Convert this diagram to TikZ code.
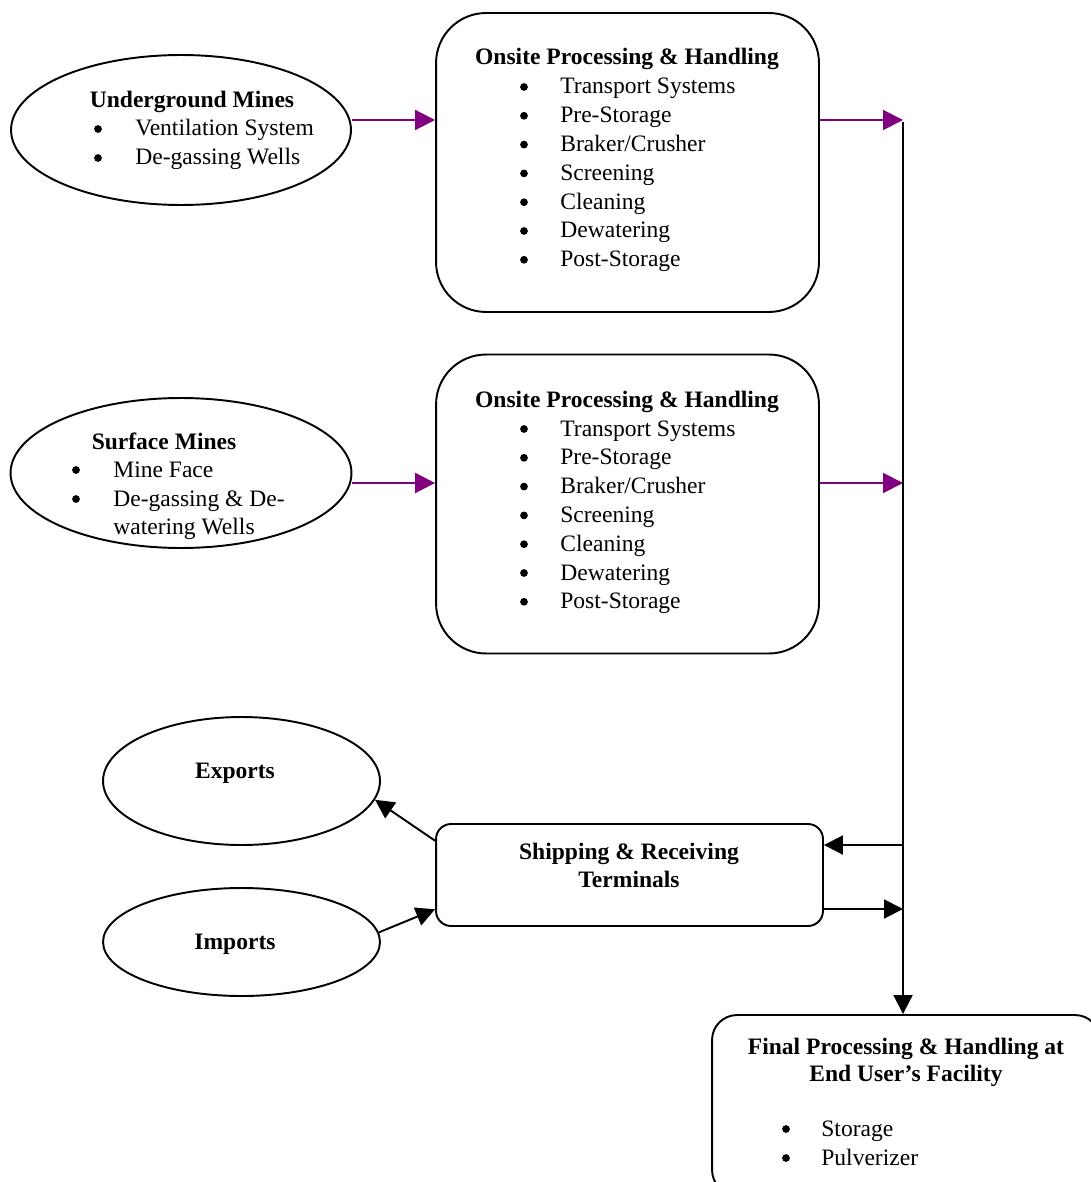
\documentclass[tikz,border=0pt]{standalone}
\usepackage{fontspec}
\setmainfont{Liberation Serif}
\usepackage{xcolor}
\usepackage{tikz}
\usetikzlibrary{arrows.meta,shapes.geometric}
\definecolor{ink}{HTML}{000000}
\definecolor{flowpurple}{HTML}{800080}
\tikzset{
  base/.style={draw=ink, line width=1.1pt, line join=round},
  oval/.style={base, ellipse, inner sep=0pt},
  procbox/.style={base, rectangle, rounded corners=1cm, inner sep=0pt,
    minimum width=7.66cm, minimum height=5.98cm},
  shipbox/.style={base, rectangle, rounded corners=0.3cm, inner sep=0pt,
    minimum width=7.74cm, minimum height=2.04cm},
  endbox/.style={base, rectangle, rounded corners=0.5cm, inner sep=0pt,
    minimum width=7.76cm, minimum height=3.6cm},
  flowp/.style={draw=flowpurple, line width=1.1pt,
    -{Triangle[length=0.4cm, width=0.4cm]}, color=flowpurple},
  flowk/.style={draw=ink, line width=1.1pt,
    -{Triangle[length=0.38cm, width=0.38cm]}},
  ttl/.style={inner sep=0pt, anchor=base, font=\fontsize{13.4}{16}\selectfont\bfseries},
  itm/.style={inner sep=0pt, anchor=base west, font=\fontsize{13.4}{16}\selectfont},
  bul/.style={circle, fill=ink, inner sep=0pt, minimum size=0.155cm},
}

\begin{document}
\begin{tikzpicture}[x=0.02cm, y=-0.02cm]
  \useasboundingbox (0,0) rectangle (1090,1182);
  % shapes
  \node[oval, minimum width=6.8cm, minimum height=3cm] (uground) at (181,130) {};
  \node[oval, minimum width=6.82cm, minimum height=3cm] (surface) at (181,473) {};
  \node[procbox] (onsite1) at (627.5,162.5) {};
  \node[procbox] (onsite2) at (627.5,504) {};
  \node[oval, minimum width=5.54cm, minimum height=2.56cm] (exports) at (241.5,781) {};
  \node[oval, minimum width=5.54cm, minimum height=2.16cm] (imports) at (241.5,942) {};
  \node[shipbox] (ship) at (629.5,875) {};
  \node[endbox] (final) at (906,1105) {};
  % texts
  \node[ttl] (ugt) at (192,108) {Underground Mines};
  \foreach \t [count=\i from 0] in {Ventilation System, De-gassing Wells} {
    \node[bul] at (98,{129+29*\i}) {};
    \node[itm] at (135,{136+29*\i}) {\t};
  }
  \node[ttl] (sft) at (164,449) {Surface Mines};
  \foreach \t [count=\i from 0] in {Mine Face, De-gassing \& De-} {
    \node[bul] at (76,{470+29*\i}) {};
    \node[itm] at (113,{477+29*\i}) {\t};
  }
  \node[itm] at (113,534) {watering Wells};
  \foreach \dy/\nm in {0/op1, 342/op2} {
    \node[ttl] (\nm) at (627,{65+\dy}) {Onsite Processing \& Handling};
    \foreach \t [count=\i from 0] in {Transport Systems, Pre-Storage,
        Braker/Crusher, Screening, Cleaning, Dewatering, Post-Storage} {
      \node[bul] at (524,{87+\dy+28.8*\i}) {};
      \node[itm] at (560,{94+\dy+28.8*\i}) {\t};
    }
  }
  \node[ttl] (ext) at (235,778) {Exports};
  \node[ttl] (imt) at (235,949) {Imports};
  \node[ttl] (sh1) at (629,859) {Shipping \& Receiving};
  \node[ttl] (sh2) at (629,887) {Terminals};
  \node[ttl] (fn1) at (906,1054) {Final Processing \& Handling at};
  \node[ttl] (fn2) at (906,1081) {End User’s Facility};
  \foreach \t [count=\i from 0] in {Storage, Pulverizer} {
    \node[bul] at (786,{1129+29*\i}) {};
    \node[itm] at (821,{1136+29*\i}) {\t};
  }
  % connectors
  \coordinate (j1) at (903,120);
  \coordinate (j2) at (903,483);
  \coordinate (j3) at (903,845);
  \coordinate (j4) at (903,909);
  \draw[flowp] (uground.east |- j1) -- (onsite1.west |- j1);
  \draw[flowp] (surface.east |- j2) -- (onsite2.west |- j2);
  \draw[flowp] (onsite1.east |- j1) -- (j1);
  \draw[flowp] (onsite2.east |- j2) -- (j2);
  \draw[flowk] ([yshift=-0.04cm]j1) -- (final.north -| j1);
  \draw[flowk] (j3) -- (ship.east |- j3);
  \draw[flowk] (ship.east |- j4) -- (j4);
  \draw[flowk] (ship.170) -- (exports.-8);
  \draw[flowk] (imports.4) -- (ship.190);
\end{tikzpicture}
\end{document}
